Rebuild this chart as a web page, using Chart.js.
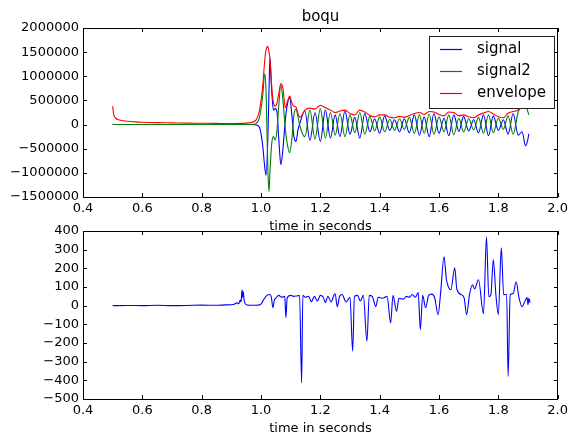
<!DOCTYPE html>
<html><head><meta charset="utf-8">
<script src="https://cdn.jsdelivr.net/npm/chart.js@4.4.0/dist/chart.umd.min.js"></script>
<style>
html,body{margin:0;padding:0;background:#fff;}
#wrap{position:relative;width:572px;height:434px;}
canvas{position:absolute;left:0;top:0;}
</style></head><body>
<div id="wrap"><canvas id="c1" width="572" height="434"></canvas><canvas id="c2" width="572" height="434"></canvas></div>
<script>
// ---------- data ----------
const chartTitle = 'boqu';
const xAxisLabel = 'time in seconds';
const seriesNames = ['signal', 'signal2', 'envelope'];

const topTimes = [0.5,0.503,0.507,0.512,0.52,0.535,0.55,0.575,0.6,0.65,0.7,0.75,0.8,0.85,0.9,0.94,0.96,0.975,0.985,
 0.995,1.005,1.013,1.017,1.023,1.027,1.03,1.036,1.042,1.048,1.054,1.06,1.067,1.074,1.082,1.09,1.097,1.104,1.111,1.118,1.125,
 1.132,1.148,1.165,1.182,1.2,1.217,1.234,1.25,1.266,1.283,
 1.3,1.316,1.333,1.35,1.367,1.383,1.4,1.417,1.434,1.45,
 1.467,1.483,1.5,1.517,1.534,1.55,1.567,1.583,1.6,1.617,
 1.633,1.65,1.667,1.683,1.7,1.717,1.733,1.75,1.767,1.783,
 1.8,1.817,1.833,1.85,1.867,1.88,1.892,1.898,1.903];

const signalValues = [0,0,0,0,0,0,0,0,0,0,0,0,0,0,0,0,0,0,-10000,
 -60000,-400000,-900000,-1050000,-300000,700000,1380000,700000,300000,330000,250000,-300000,-830000,-500000,100000,450000,560000,200000,-250000,-350000,-100000,
 50000,280000,-330000,250000,-350000,300000,-280000,200000,-250000,280000,
 -200000,150000,-280000,230000,-150000,120000,-180000,180000,-120000,100000,
 -150000,120000,-170000,200000,-220000,160000,-250000,230000,-180000,130000,
 -230000,200000,-140000,170000,-130000,100000,-170000,200000,-230000,180000,
 -120000,100000,-200000,230000,-220000,-150000,-440000,-350000,-190000];

const signal2Values = [0,0,0,0,0,0,0,0,0,0,0,0,0,0,0,0,0,5000,30000,
 150000,550000,1050000,700000,-900000,-1390000,-1000000,-400000,-250000,-320000,-100000,400000,830000,500000,-100000,-450000,-580000,-300000,200000,320000,150000,
 -50000,-250000,300000,-300000,330000,-280000,250000,-220000,230000,-250000,
 200000,-170000,250000,-200000,170000,-130000,160000,-150000,110000,-120000,
 120000,-100000,150000,-180000,200000,-180000,220000,-200000,160000,-150000,
 200000,-210000,130000,-150000,120000,-110000,150000,-180000,200000,-170000,
 130000,-100000,180000,-200000,260000,380000,450000,300000,200000];

const envelopeValues = [380000,220000,160000,125000,100000,80000,68000,55000,48000,40000,35000,30000,27000,24000,22000,25000,35000,60000,110000,
 300000,750000,1350000,1550000,1620000,1500000,1380000,800000,450000,380000,450000,650000,850000,750000,350000,500000,590000,450000,380000,360000,220000,
 150000,300000,340000,320000,400000,350000,300000,250000,280000,300000,
 230000,200000,300000,260000,190000,160000,200000,200000,150000,140000,
 170000,150000,190000,230000,250000,210000,270000,260000,210000,180000,
 260000,250000,180000,200000,160000,140000,200000,240000,270000,220000,
 160000,140000,240000,270000,310000,450000,650000,800000,950000];

const freqTimes = [0.5,0.55,0.6,0.65,0.7,0.75,0.8,0.85,0.88,0.9,0.91,0.92,0.925,0.93,0.933,0.936,0.938,0.94,0.943,0.947,0.955,0.97,0.99,
 1.0,1.01,1.02,1.03,1.035,1.04,1.045,1.05,1.06,1.07,1.08,1.084,1.088,1.1,1.11,1.12,1.13,1.137,1.141,
 1.15,1.16,1.17,1.18,1.19,1.2,1.21,1.217,1.225,1.237,1.245,1.25,1.257,1.265,1.273,1.287,1.3,1.309,1.315,
 1.325,1.335,1.345,1.357,1.365,1.375,1.387,1.395,1.41,1.425,1.437,1.445,1.457,1.465,1.48,1.49,1.5,1.51,1.52,1.53,1.537,
 1.545,1.555,1.565,1.575,1.585,1.597,1.605,1.617,1.625,1.633,1.64,1.653,1.66,1.675,1.685,1.693,1.703,1.713,1.72,1.733,
 1.75,1.76,1.768,1.775,1.783,1.792,1.8,1.81,1.818,1.828,1.833,1.84,1.85,1.86,1.87,1.88,1.89,1.897,1.9,1.903,1.907];

const freqValues = [0,1,0,2,0,1,3,2,4,5,8,15,10,30,20,85,45,75,30,10,3,2,3,
 8,35,55,60,45,-11,30,40,55,45,50,-64,40,55,50,52,55,-413,55,
 45,50,21,50,25,55,45,16,50,20,55,64,-5,50,60,20,45,-244,50,
 55,25,55,-190,55,50,-5,45,40,50,-92,55,-30,40,35,50,45,60,45,70,-128,
 55,-11,55,62,45,-48,60,262,140,96,85,203,90,59,40,-48,60,112,90,139,
 -43,369,48,60,246,55,-48,310,59,60,-379,59,65,128,40,-5,25,43,5,40,16];

// ---------- helpers ----------
const FONT = 'DejaVu Sans';
const minus = v => (v < 0 ? '\u2212' : '') + Math.abs(v);
const pts = (xs, ys) => xs.map((x, i) => ({x: x, y: ys[i]}));

function decor(opt) {
  return {
    id: 'decor',
    afterDraw(chart) {
      const ctx = chart.ctx, a = chart.chartArea;
      const L = Math.round(a.left), R = Math.round(a.right), T = Math.round(a.top), B = Math.round(a.bottom);
      ctx.save();
      ctx.strokeStyle = '#000';
      ctx.lineWidth = 1;
      const tl = 4;
      ctx.beginPath();
      chart.scales.x.ticks.forEach(t => {
        const px = Math.round(chart.scales.x.getPixelForValue(t.value)) + 0.5;
        ctx.moveTo(px, B); ctx.lineTo(px, B - tl);
        ctx.moveTo(px, T); ctx.lineTo(px, T + tl);
      });
      chart.scales.y.ticks.forEach(t => {
        const py = Math.round(chart.scales.y.getPixelForValue(t.value)) + 0.5;
        ctx.moveTo(L, py); ctx.lineTo(L + tl, py);
        ctx.moveTo(R, py); ctx.lineTo(R - tl, py);
      });
      ctx.stroke();
      ctx.strokeRect(L + 0.5, T + 0.5, R - L - 1, B - T);
      ctx.fillStyle = '#000';
      ctx.textAlign = 'center';
      ctx.textBaseline = 'middle';
      ctx.font = '13px "' + FONT + '"';
      ctx.fillText(opt.xLabel, (L + R) / 2, B + 30);
      if (opt.title) {
        ctx.font = '15px "' + FONT + '"';
        ctx.fillText(opt.title, (L + R) / 2, T - 11);
      }
      if (opt.legend) {
        const bx = 429, by = 36, bw = 125, bh = 72;
        ctx.fillStyle = '#fff';
        ctx.fillRect(bx, by, bw, bh);
        ctx.strokeStyle = '#222';
        ctx.lineWidth = 1;
        ctx.strokeRect(bx + 0.5, by + 0.5, bw, bh);
        ctx.font = '15px "' + FONT + '"';
        ctx.textAlign = 'left';
        const rows = [49, 71, 93];
        chart.data.datasets.forEach((ds, i) => {
          ctx.strokeStyle = ds.borderColor;
          ctx.lineWidth = 1.2;
          ctx.beginPath();
          ctx.moveTo(440, rows[i] + 0.5); ctx.lineTo(462, rows[i] + 0.5);
          ctx.stroke();
          ctx.fillStyle = '#000';
          ctx.fillText(ds.label, 477, rows[i]);
        });
      }
      ctx.restore();
    }
  };
}

function scalesFor(ymin, ymax, ystep) {
  return {
    x: {
      type: 'linear', min: 0.4, max: 2.0,
      grid: {display: false, drawTicks: false},
      border: {display: false},
      ticks: {stepSize: 0.2, padding: 4, color: '#000', font: {family: FONT, size: 13},
              maxRotation: 0, autoSkip: false, callback: v => v.toFixed(1)},
      afterFit: s => { s.height = 20; }
    },
    y: {
      type: 'linear', min: ymin, max: ymax,
      grid: {display: false, drawTicks: false},
      border: {display: false},
      ticks: {stepSize: ystep, padding: 4, color: '#000', font: {family: FONT, size: 13},
              autoSkip: false, callback: v => minus(v)},
      afterFit: s => { s.width = 83; }
    }
  };
}

const common = {
  responsive: false, animation: false, devicePixelRatio: 1,
  plugins: {legend: {display: false}, tooltip: {enabled: false}, title: {display: false}},
  elements: {point: {radius: 0}, line: {cubicInterpolationMode: 'monotone'}}
};

new Chart(document.getElementById('c1'), {
  type: 'line',
  data: {
    datasets: [
      {label: seriesNames[0], data: pts(topTimes, signalValues), borderColor: '#0000ff', borderWidth: 1.1, order: 2, fill: false},
      {label: seriesNames[1], data: pts(topTimes, signal2Values), borderColor: '#008000', borderWidth: 1.1, order: 1, fill: false},
      {label: seriesNames[2], data: pts(topTimes, envelopeValues), borderColor: '#ff0000', borderWidth: 1.1, order: 0, fill: false}
    ]
  },
  options: Object.assign({}, common, {
    layout: {padding: {left: 0, right: 9, top: 28, bottom: 217}},
    scales: scalesFor(-1500000, 2000000, 500000)
  }),
  plugins: [decor({title: chartTitle, xLabel: xAxisLabel, legend: true})]
});

new Chart(document.getElementById('c2'), {
  type: 'line',
  data: {
    datasets: [
      {label: seriesNames[0], data: pts(freqTimes, freqValues), borderColor: '#0000ff', borderWidth: 1.1, fill: false}
    ]
  },
  options: Object.assign({}, common, {
    layout: {padding: {left: 0, right: 9, top: 231, bottom: 15}},
    scales: scalesFor(-500, 400, 100)
  }),
  plugins: [decor({xLabel: xAxisLabel, legend: false})]
});
</script>
</body></html>
